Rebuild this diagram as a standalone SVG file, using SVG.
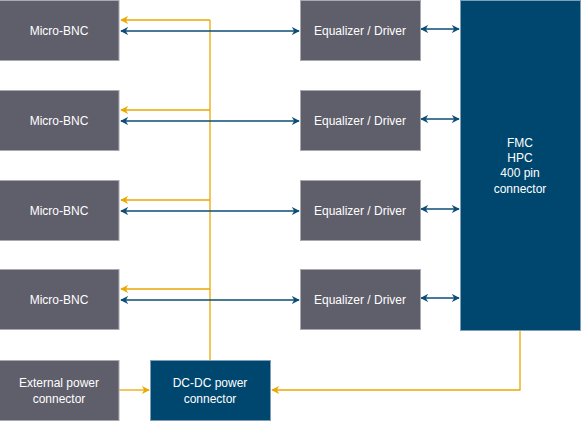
<svg xmlns="http://www.w3.org/2000/svg" width="582" height="421" viewBox="0 0 582 421">
<style>
.g{fill:#5f5e6b;stroke:#a9aab0;stroke-width:1}
.b{fill:#00476f;stroke:#7f9fb8;stroke-width:1}
text{font-family:"Liberation Sans",Arial,sans-serif;font-size:12px;fill:#ffffff;text-anchor:middle}
.o{stroke:#eaa800;stroke-width:1.3;fill:none}
.l{stroke:#0c4c76;stroke-width:1.3;fill:none}
</style>
<defs>
<marker id="ao" viewBox="0 0 10 10" refX="9" refY="5" markerWidth="8" markerHeight="8" markerUnits="userSpaceOnUse" orient="auto-start-reverse"><path d="M0,0 L10,5 L0,10 L3,5 z" fill="#eaa800"/></marker>
<marker id="ab" viewBox="0 0 10 10" refX="9" refY="5" markerWidth="8" markerHeight="8" markerUnits="userSpaceOnUse" orient="auto-start-reverse"><path d="M0,0 L10,5 L0,10 L3,5 z" fill="#0c4c76"/></marker>
</defs>
<g id="connectors">
<path class="o" d="M210,360 V20"/>
<path class="o" d="M210,20 H121" marker-end="url(#ao)"/>
<path class="o" d="M210,110 H121" marker-end="url(#ao)"/>
<path class="o" d="M210,200 H121" marker-end="url(#ao)"/>
<path class="o" d="M210,289 H121" marker-end="url(#ao)"/>
<path class="o" d="M520,330 V390 H272" marker-end="url(#ao)"/>
<path class="o" d="M119,390 H149" marker-end="url(#ao)"/>
<path class="l" d="M121,31 H299" marker-start="url(#ab)" marker-end="url(#ab)"/>
<path class="l" d="M121,121 H299" marker-start="url(#ab)" marker-end="url(#ab)"/>
<path class="l" d="M121,211 H299" marker-start="url(#ab)" marker-end="url(#ab)"/>
<path class="l" d="M121,300 H299" marker-start="url(#ab)" marker-end="url(#ab)"/>
<path class="l" d="M421,29 H459" marker-start="url(#ab)" marker-end="url(#ab)"/>
<path class="l" d="M421,119 H459" marker-start="url(#ab)" marker-end="url(#ab)"/>
<path class="l" d="M421,209 H459" marker-start="url(#ab)" marker-end="url(#ab)"/>
<path class="l" d="M421,298 H459" marker-start="url(#ab)" marker-end="url(#ab)"/>
</g>
<g id="bnc1"><rect class="g" x="-1" y="0.5" width="120" height="60"/><text x="59" y="35">Micro-BNC</text></g>
<g id="bnc2"><rect class="g" x="-1" y="90.5" width="120" height="60"/><text x="59" y="125">Micro-BNC</text></g>
<g id="bnc3"><rect class="g" x="-1" y="180.5" width="120" height="60"/><text x="59" y="215">Micro-BNC</text></g>
<g id="bnc4"><rect class="g" x="-1" y="269.5" width="120" height="60"/><text x="59" y="304">Micro-BNC</text></g>
<g id="ext"><rect class="g" x="-1" y="360.5" width="120" height="60"/><text x="59" y="387">External power</text><text x="59" y="403">connector</text></g>
<g id="dcdc"><rect class="b" x="150.5" y="360.5" width="120" height="60"/><text x="210" y="387">DC-DC power</text><text x="210" y="403">connector</text></g>
<g id="eq1"><rect class="g" x="300.5" y="0.5" width="120" height="60"/><text x="360" y="35">Equalizer / Driver</text></g>
<g id="eq2"><rect class="g" x="300.5" y="90.5" width="120" height="60"/><text x="360" y="125">Equalizer / Driver</text></g>
<g id="eq3"><rect class="g" x="300.5" y="180.5" width="120" height="60"/><text x="360" y="215">Equalizer / Driver</text></g>
<g id="eq4"><rect class="g" x="300.5" y="269.5" width="120" height="60"/><text x="360" y="304">Equalizer / Driver</text></g>
<g id="fmc"><rect class="b" x="460.5" y="0.5" width="120" height="330"/><text x="520" y="147">FMC</text><text x="520" y="162">HPC</text><text x="520" y="177">400 pin</text><text x="520" y="193">connector</text></g>
</svg>
